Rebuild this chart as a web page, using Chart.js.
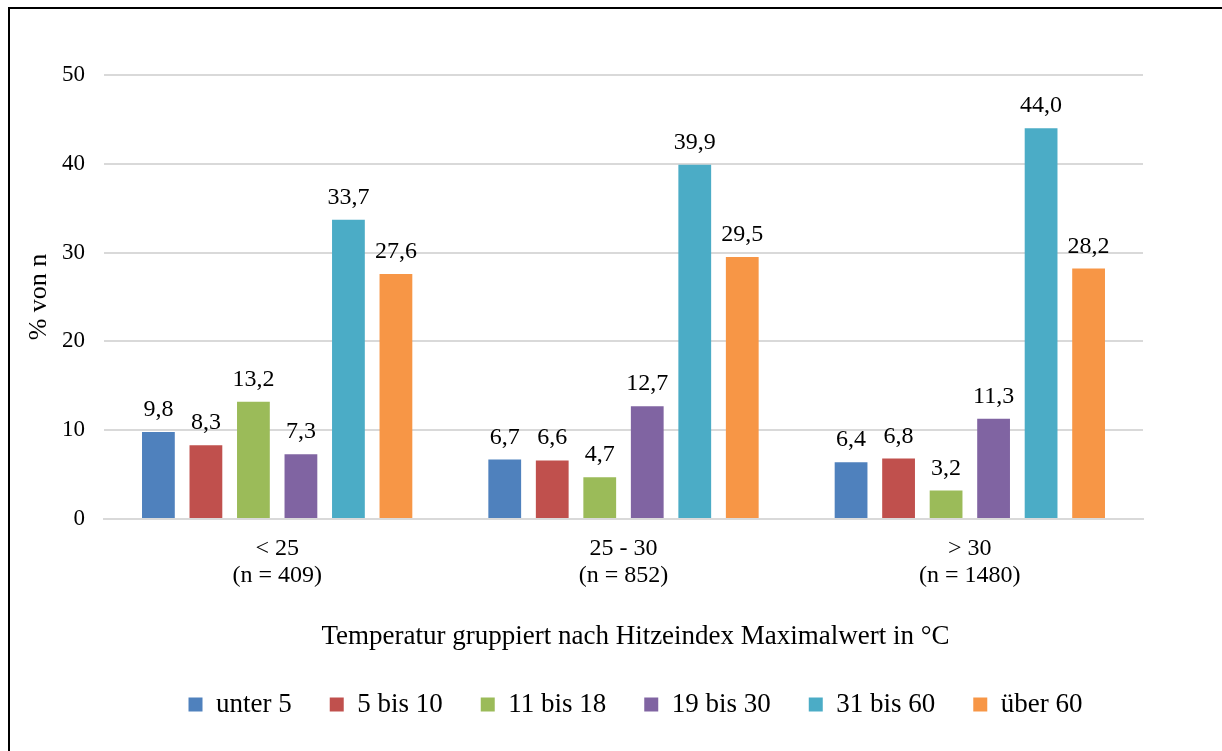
<!DOCTYPE html>
<html lang="de">
<head>
<meta charset="utf-8">
<script src="https://cdn.jsdelivr.net/npm/chart.js@4"></script>
<style>
  html, body { margin: 0; padding: 0; background: #fff; overflow: hidden; }
  #wrap { position: relative; width: 1222px; height: 751px; }
  #frame { position: absolute; left: 8px; top: 7px; width: 1300px; height: 800px; border: 2px solid #000; box-sizing: border-box; }
  canvas { position: absolute; left: 0; top: 0; }
</style>
</head>
<body>
<div id="wrap">
  <div id="frame"></div>
  <canvas id="c" width="1222" height="751"></canvas>
</div>
<script>
// Temperaturgruppen (Hitzeindex-Maximalwert) mit Stichprobengröße
const categories = [["< 25", "(n = 409)"], ["25 - 30", "(n = 852)"], ["> 30", "(n = 1480)"]];
const seriesNames = ["unter 5", "5 bis 10", "11 bis 18", "19 bis 30", "31 bis 60", "über 60"];
const unter5   = [9.8, 6.7, 6.4];
const bis10    = [8.3, 6.6, 6.8];
const bis18    = [13.2, 4.7, 3.2];
const bis30    = [7.3, 12.7, 11.3];
const bis60    = [33.7, 39.9, 44.0];
const ueber60  = [27.6, 29.5, 28.2];
const yTicks   = [0, 10, 20, 30, 40, 50];
const colors   = ["#4F81BD", "#C0504D", "#9BBB59", "#8064A2", "#4BACC6", "#F79646"];
const xTitle   = "Temperatur gruppiert nach Hitzeindex Maximalwert in °C";

const FONT = "'Liberation Serif', 'Times New Roman', serif";
const values = [unter5, bis10, bis18, bis30, bis60, ueber60];

// Werte über den Balken (deutsches Dezimalkomma)
const valueLabels = {
  id: 'valueLabels',
  afterDatasetsDraw(chart) {
    const ctx = chart.ctx;
    ctx.save();
    ctx.font = '24px ' + FONT;
    ctx.fillStyle = '#000';
    ctx.textAlign = 'center';
    ctx.textBaseline = 'alphabetic';
    chart.data.datasets.forEach((ds, i) => {
      chart.getDatasetMeta(i).data.forEach((bar, j) => {
        const txt = ds.data[j].toFixed(1).replace('.', ',');
        ctx.fillText(txt, bar.x, bar.y - 16);
      });
    });
    ctx.restore();
  }
};

// Achsentitel unter den Kategorien, leicht nach rechts versetzt
const axisTitle = {
  id: 'axisTitle',
  afterDraw(chart) {
    const ctx = chart.ctx;
    const a = chart.chartArea;
    ctx.save();
    ctx.font = '27px ' + FONT;
    ctx.fillStyle = '#000';
    ctx.textAlign = 'center';
    ctx.textBaseline = 'middle';
    ctx.fillText(xTitle, (a.left + a.right) / 2 + 12, a.bottom + 118);
    ctx.restore();
  }
};

// Legende mittig unter dem Titel ausrichten
const legendShift = {
  id: 'legendShift',
  afterLayout(chart) {
    const lg = chart.legend;
    const dx = 52;
    lg.left += dx;
    lg.right += dx;
  }
};

new Chart(document.getElementById('c'), {
  type: 'bar',
  data: {
    labels: categories,
    datasets: seriesNames.map((name, i) => ({
      label: name,
      data: values[i],
      backgroundColor: colors[i],
      borderWidth: 0,
      categoryPercentage: 0.823,
      barPercentage: 0.69
    }))
  },
  options: {
    responsive: false,
    animation: false,
    devicePixelRatio: 1,
    layout: { padding: { left: 24, right: 79, top: 75, bottom: 23 } },
    plugins: {
      tooltip: { enabled: false },
      legend: {
        position: 'bottom',
        labels: {
          font: { family: FONT, size: 27 },
          color: '#000',
          boxWidth: 14,
          boxHeight: 14,
          padding: 38,
          useBorderRadius: false
        }
      }
    },
    scales: {
      x: {
        grid: { display: false, drawTicks: false },
        border: { display: true, color: '#d9d9d9', width: 2 },
        ticks: { font: { family: FONT, size: 24, lineHeight: 1.1 }, color: '#000', padding: 17, maxRotation: 0 },
        title: { display: false },
        afterFit(scale) { scale.height = 134; }
      },
      y: {
        min: 0, max: 50,
        afterBuildTicks(scale) { scale.ticks = yTicks.map(v => ({ value: v })); },
        grid: { color: '#d9d9d9', lineWidth: 2, drawTicks: false },
        border: { display: false },
        ticks: { font: { family: FONT, size: 23 }, color: '#000', padding: 19 },
        title: { display: true, text: '% von n', font: { family: FONT, size: 26 }, color: '#000', padding: 0 },
        afterFit(scale) { scale.width = 80; }
      }
    }
  },
  plugins: [valueLabels, axisTitle, legendShift]
});
</script>
</body>
</html>
